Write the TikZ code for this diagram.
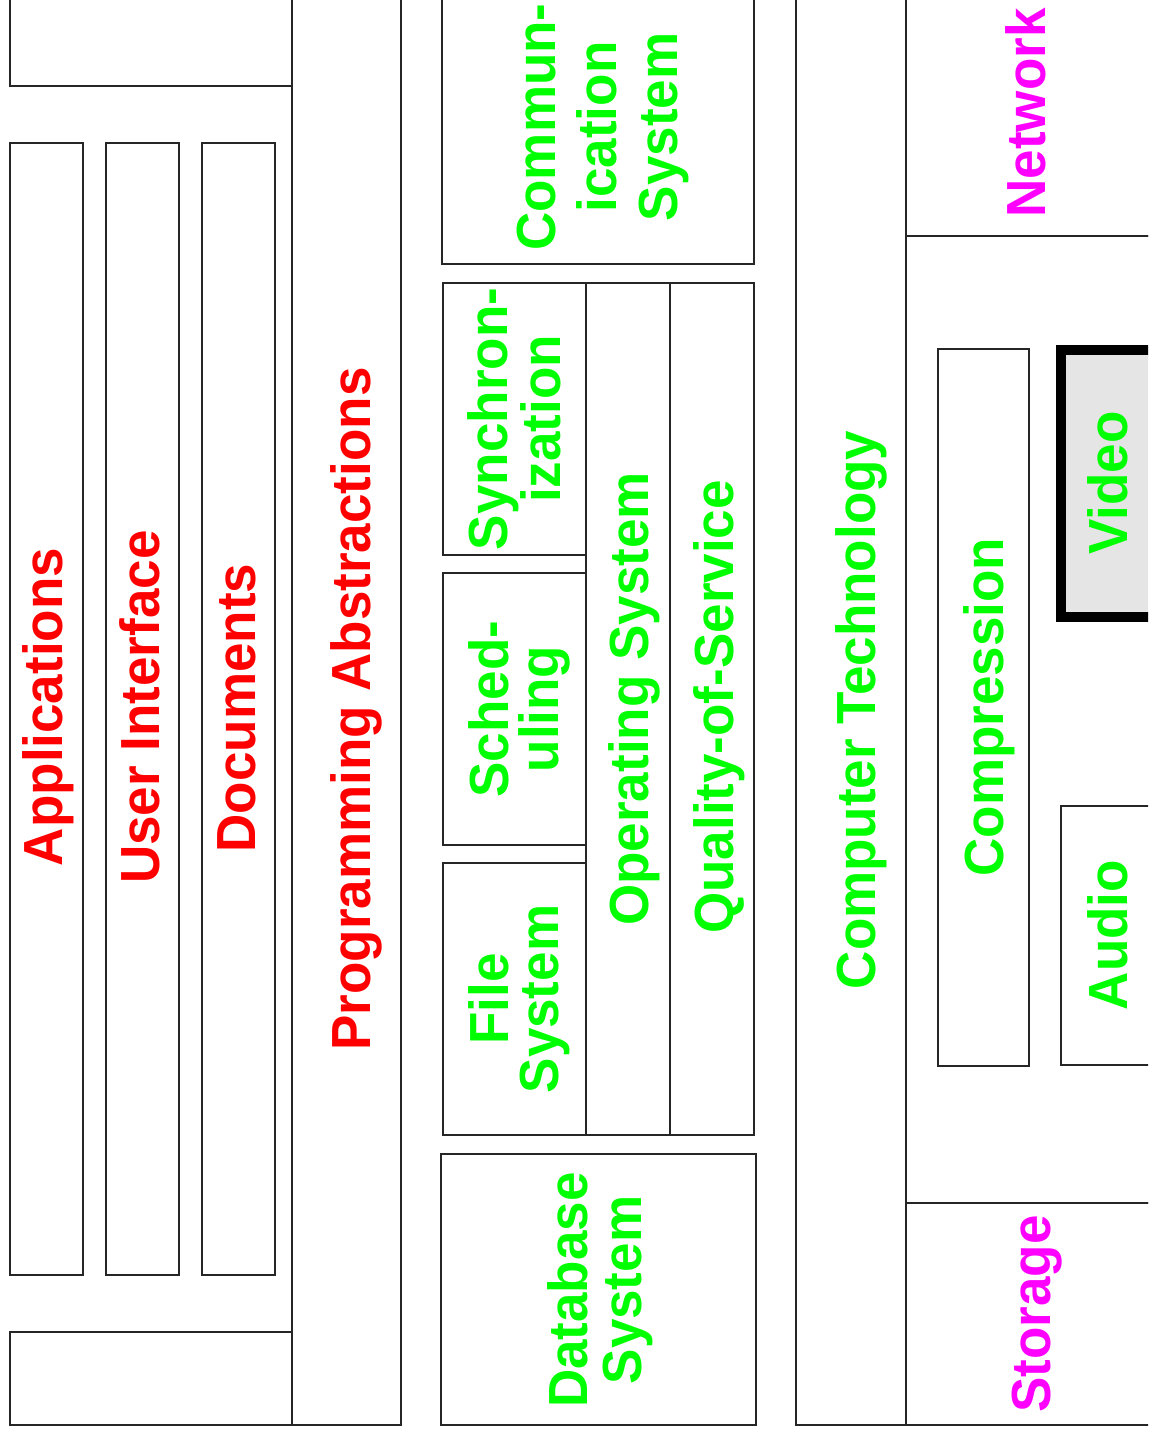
\documentclass[tikz,border=0pt]{standalone}
\usepackage{fontspec}
\setmainfont{Liberation Sans}
\definecolor{upred}{RGB}{255,0,0}
\definecolor{sysgreen}{RGB}{0,255,0}
\definecolor{devmag}{RGB}{255,0,255}

\begin{document}
\begin{tikzpicture}[x=0.5pt,y=-0.5pt,
  box/.style={draw=black!85, line width=0.65pt},
  media/.style={draw=black, line width=5.25pt, fill=black!10},
  lbl/.style={rotate=90, yscale=1.04, inner sep=0pt, anchor=base,
    font=\fontsize{26.5pt}{25pt}\selectfont\bfseries},
  lblm/.style={lbl, anchor=center, align=center}]
  \useasboundingbox (0,0) rectangle (1148,1434);
  \clip (0,0) rectangle (1148,1434);

  % Application side
  \draw[box] (10,-7) rectangle (292,86);
  \draw[box] (10,1332) rectangle (292,1425);
  \draw[box] (292,-7) rectangle (401,1425);
  \draw[box] (10,143) rectangle (83,1275);
  \draw[box] (106,143) rectangle (179,1275);
  \draw[box] (202,143) rectangle (275,1275);

  % System side
  \draw[box] (442,-7) rectangle (754,264);
  \draw[box] (443,283) rectangle (586,555);
  \draw[box] (443,573) rectangle (586,845);
  \draw[box] (443,863) rectangle (586,1135);
  \draw[box] (586,283) rectangle (670,1135);
  \draw[box] (670,283) rectangle (754,1135);
  \draw[box] (441,1154) rectangle (756,1425);

  % Device side
  \draw[box] (796,-7) rectangle (906,1425);
  \draw[box] (906,-7) rectangle (1170,236);
  \draw[box] (906,236) rectangle (1170,1203);
  \draw[box] (906,1203) rectangle (1170,1425);
  \draw[box] (938,349) rectangle (1029,1066);
  \draw[media] (1061,350) rectangle (1180,617);
  \draw[box] (1061,806) rectangle (1170,1065);

  % Labels
  \node[lbl, text=upred] (apps) at (62,707) {Applications};
  \node[lbl, text=upred] (ui) at (159,707) {User Interface};
  \node[lbl, text=upred] (docs) at (255,708) {Documents};
  \node[lbl, text=upred] (progabs) at (370,709) {Programming Abstractions};

  \node[lblm, text=sysgreen] (comm) at (603,127) {Commun-\\[4.3pt]ication\\[4.3pt]System};
  \node[lblm, text=sysgreen] (sync) at (514,419) {Synchron-\\[0.5pt]ization};
  \node[lblm, text=sysgreen] (sched) at (519,709) {Sched-\\[-1pt]uling};
  \node[lblm, text=sysgreen] (fs) at (519,999) {File\\[-1pt]System};
  \node[lbl, text=sysgreen] (os) at (648,699) {Operating System};
  \node[lbl, text=sysgreen] (qos) at (733,707) {Quality-of-Service};
  \node[lblm, text=sysgreen] (db) at (600,1290) {Database\\[1pt]System};

  \node[lbl, text=sysgreen] (comptech) at (875,710) {Computer Technology};
  \node[lbl, text=devmag] (net) at (1045,113) {Network};
  \node[lbl, text=devmag] (store) at (1050,1314) {Storage};
  \node[lbl, text=sysgreen] (compr) at (1003,707) {Compression};
  \node[lbl, text=sysgreen] (video) at (1127,483) {Video};
  \node[lbl, text=sysgreen] (audio) at (1127,935) {Audio};
\end{tikzpicture}
\end{document}
